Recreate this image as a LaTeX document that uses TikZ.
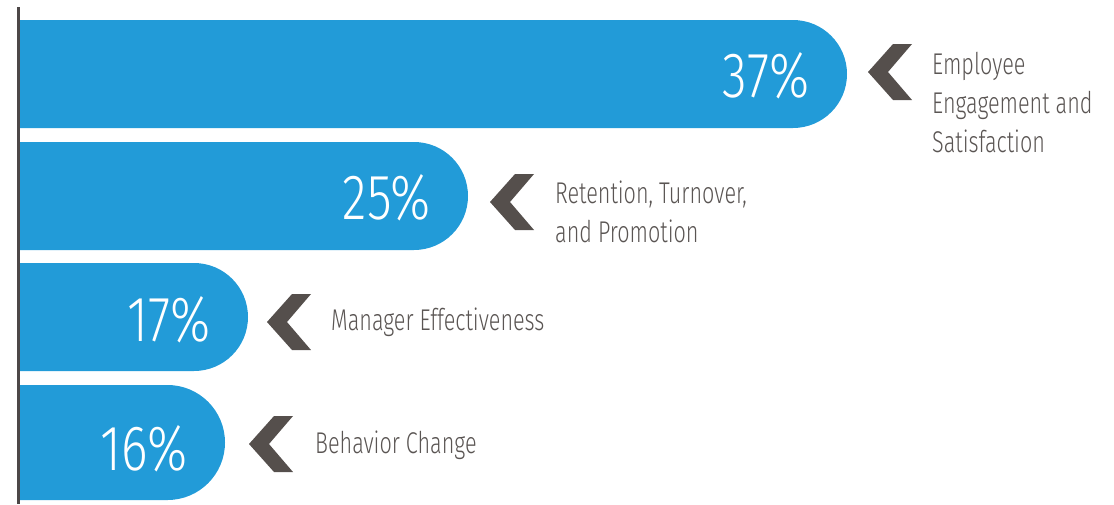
\documentclass[tikz,border=0pt]{standalone}
\usepackage{fontspec}
\setmainfont{Fira Sans Light}[FakeStretch=0.72]
\newfontfamily\pctfont{Fira Sans Light}[FakeStretch=0.79]
\usetikzlibrary{positioning}

\definecolor{barblue}{HTML}{229BD8}
\definecolor{chevgray}{HTML}{554F4C}
\definecolor{labgray}{HTML}{5A5553}
\definecolor{axisgray}{HTML}{4D4747}

% bar: top, bottom, right end
\newcommand{\pctbar}[3]{%
  \fill[barblue] (20,#1) -- ({#3-(#2-#1)/2},#1)
    arc[start angle=-90,end angle=90,radius={(#2-#1)/2}] -- (20,#2) -- cycle;}
% chevron: tip x, tip y
\newcommand{\chevron}[2]{%
  \fill[chevgray] (#1,#2) -- ++(25,-28) -- ++(19,0) -- ++(-24,28)
    -- ++(24,28) -- ++(-19,0) -- cycle;}

\begin{document}
\begin{tikzpicture}[x=1pt,y=-1pt]
    \tikzstyle{pct}=[text=white,inner sep=0pt,anchor=base east,font=\pctfont\fontsize{64}{64}\selectfont]
    \tikzstyle{label}=[text=labgray,inner sep=0pt,anchor=base west,align=left,font=\fontsize{30}{39}\selectfont]
    \useasboundingbox (0,0) rectangle (1114,504);

    \pctbar{20}{128}{847}
    \pctbar{142}{250}{468}
    \pctbar{263}{371}{248}
    \pctbar{385}{500}{225}
    \draw[axisgray,line width=3pt] (18,7) -- (18,504);

    \node[pct] (p37) at (810,97) {37\%};
    \node[pct] (p25) at (431,219) {25\%};
    \node[pct] (p17) at (211,341) {17\%};
    \node[pct] (p16) at (188,470) {16\%};

    \chevron{868}{72}
    \chevron{490}{202}
    \chevron{267}{322}
    \chevron{249}{444}

    % multi-line labels sit on the baseline of their last line
    \node[label] (engage) at (932,152) {Employee\\Engagement and\\Satisfaction};
    \node[label] (retain) at (555,242) {Retention, Turnover,\\and Promotion};
    \node[label] (manager) at (331,330) {Manager Effectiveness};
    \node[label] (behave) at (315,453) {Behavior Change};
\end{tikzpicture}
\end{document}
